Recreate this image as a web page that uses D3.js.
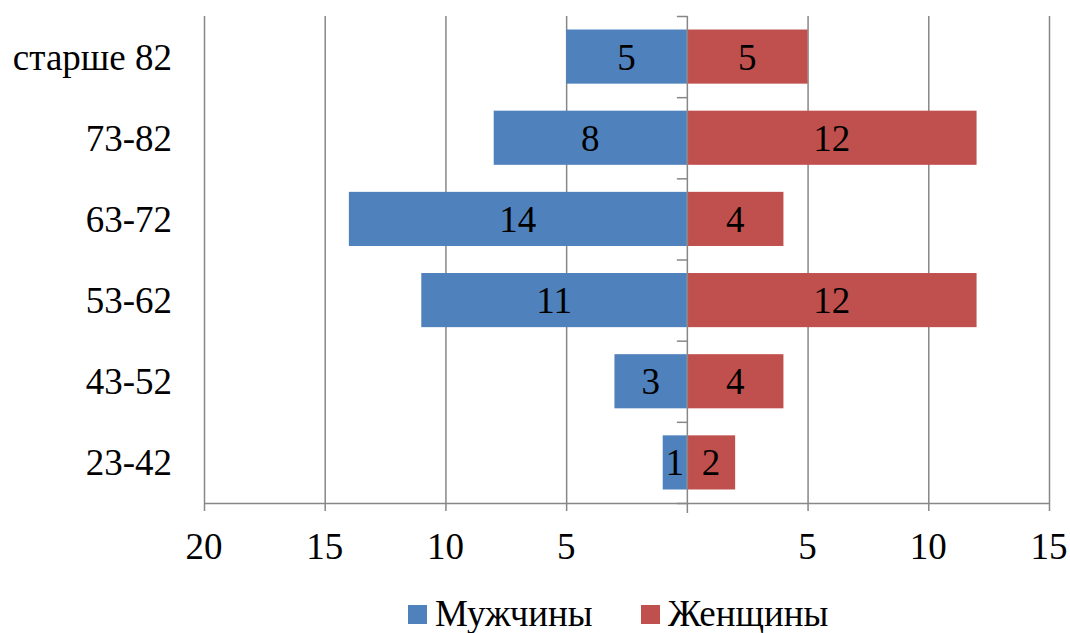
<!DOCTYPE html>
<html>
<head>
<meta charset="utf-8">
<script src="https://cdn.jsdelivr.net/npm/d3@7"></script>
<style>
  html, body { margin: 0; padding: 0; background: #fff; }
  svg { display: block; }
  text { font-family: "Liberation Serif", "Times New Roman", serif; fill: #000; }
</style>
</head>
<body>
<svg id="chart" width="1070" height="633"></svg>
<script>
// Age groups, top to bottom
const ageGroups = ["старше 82", "73-82", "63-72", "53-62", "43-52", "23-42"];
// Counts per age group
const men   = [5, 8, 14, 11, 3, 1];
const women = [5, 12, 4, 12, 4, 2];
// Axis ticks (signed) and their printed labels
const tickValues = [-20, -15, -10, -5, 0, 5, 10, 15];
const tickLabels = ["20", "15", "10", "5", "", "5", "10", "15"];
const seriesNames = ["Мужчины", "Женщины"];
const seriesColors = ["#4F81BD", "#C0504D"];

const fontSize = 37;
const svg = d3.select("#chart");
const plot = { left: 204, right: 1049, top: 16, bottom: 503 };

const x = d3.scaleLinear().domain([-20, 15]).range([plot.left, plot.right]);
const y = d3.scaleBand().domain(ageGroups).range([plot.top, plot.bottom])
  .paddingInner(0.333).paddingOuter(0.1665);
const yOuter = d3.scaleBand().domain(ageGroups).range([plot.top, plot.bottom]);

const gridColor = "#878787";

// vertical gridlines (except zero, drawn as the category axis)
svg.append("g").selectAll("line")
  .data(tickValues.filter(v => v !== 0))
  .join("line")
  .attr("x1", d => x(d) + 0.5).attr("x2", d => x(d) + 0.5)
  .attr("y1", plot.top).attr("y2", plot.bottom + 8)
  .attr("stroke", gridColor).attr("stroke-width", 1.5);

// bottom axis line
svg.append("line")
  .attr("x1", plot.left).attr("x2", plot.right + 1)
  .attr("y1", plot.bottom + 0.5).attr("y2", plot.bottom + 0.5)
  .attr("stroke", gridColor).attr("stroke-width", 1.5);

// tick labels
svg.append("g").selectAll("text")
  .data(tickValues)
  .join("text")
  .attr("x", d => x(d))
  .attr("y", 559)
  .attr("text-anchor", "middle")
  .attr("font-size", fontSize)
  .text((d, i) => tickLabels[i]);

// bars: men to the left, women to the right
const bars = svg.append("g");
bars.selectAll("rect.men")
  .data(ageGroups)
  .join("rect")
  .attr("class", "men")
  .attr("x", (d, i) => x(-men[i]))
  .attr("width", (d, i) => x(0) - x(-men[i]))
  .attr("y", d => y(d))
  .attr("height", y.bandwidth())
  .attr("fill", seriesColors[0]);

bars.selectAll("rect.women")
  .data(ageGroups)
  .join("rect")
  .attr("class", "women")
  .attr("x", x(0))
  .attr("width", (d, i) => x(women[i]) - x(0))
  .attr("y", d => y(d))
  .attr("height", y.bandwidth())
  .attr("fill", seriesColors[1]);

// value labels
const labels = svg.append("g").attr("font-size", fontSize).attr("text-anchor", "middle");
labels.selectAll("text.men")
  .data(ageGroups)
  .join("text")
  .attr("x", (d, i) => (x(-men[i]) + x(0)) / 2)
  .attr("y", d => y(d) + y.bandwidth() / 2 + 13)
  .text((d, i) => men[i]);
labels.selectAll("text.women")
  .data(ageGroups)
  .join("text")
  .attr("x", (d, i) => (x(women[i]) + x(0)) / 2)
  .attr("y", d => y(d) + y.bandwidth() / 2 + 13)
  .text((d, i) => women[i]);

// zero axis with category ticks
const x0 = x(0);
svg.append("line")
  .attr("x1", x0 + 0.5).attr("x2", x0 + 0.5)
  .attr("y1", plot.top).attr("y2", plot.bottom + 10)
  .attr("stroke", gridColor).attr("stroke-width", 1.5);
const boundaries = ageGroups.map(d => yOuter(d)).concat([plot.bottom]);
svg.append("g").selectAll("line")
  .data(boundaries)
  .join("line")
  .attr("x1", x0 - 10).attr("x2", x0 + 0.5)
  .attr("y1", d => d + 0.5).attr("y2", d => d + 0.5)
  .attr("stroke", gridColor).attr("stroke-width", 1.5);

// category labels
svg.append("g").selectAll("text")
  .data(ageGroups)
  .join("text")
  .attr("x", 172)
  .attr("y", d => yOuter(d) + yOuter.bandwidth() / 2 + 13)
  .attr("text-anchor", "end")
  .attr("font-size", fontSize)
  .text(d => d);

// legend
const legend = svg.append("g");
const legendX = [408, 641];
seriesNames.forEach((name, i) => {
  legend.append("rect")
    .attr("x", legendX[i]).attr("y", 605)
    .attr("width", 19).attr("height", 19)
    .attr("fill", seriesColors[i]);
  legend.append("text")
    .attr("x", legendX[i] + 27).attr("y", 626)
    .attr("font-size", fontSize)
    .text(name);
});
</script>
</body>
</html>
